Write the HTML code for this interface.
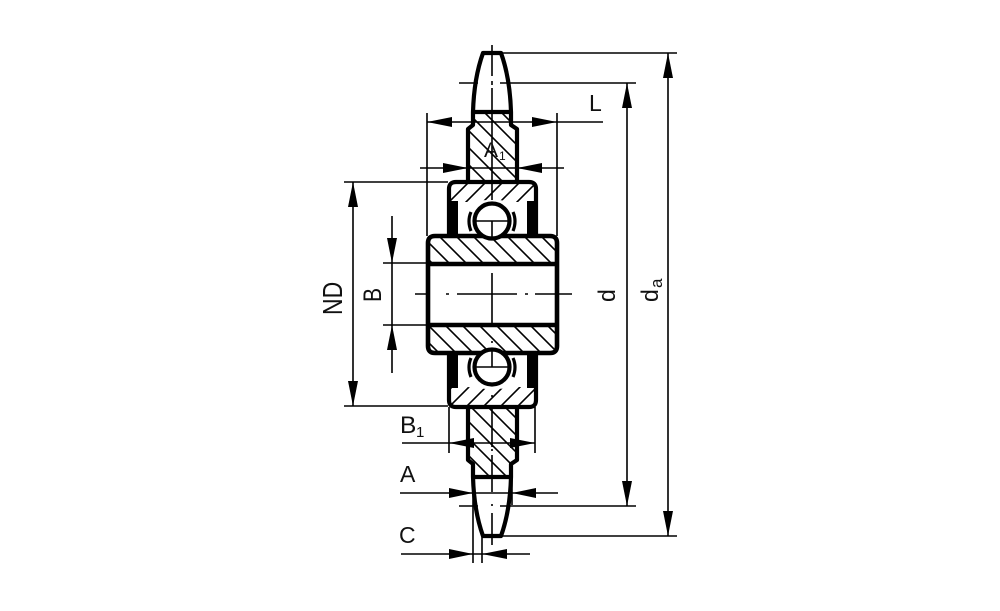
<!DOCTYPE html>
<html><head><meta charset="utf-8"><style>
html,body{margin:0;padding:0;background:#fff}
svg{display:block}
text{font-family:"Liberation Sans",sans-serif;fill:#111}
</style></head><body>
<svg width="1000" height="611" viewBox="0 0 1000 611" xmlns="http://www.w3.org/2000/svg">
<defs>
<clipPath id="cn1"><path d="M474 112H510V125L516 130V181H469V130L474 125Z"/></clipPath>
<clipPath id="cn2"><path d="M469 408H516V459L510 464V476H474V464L469 459Z"/></clipPath>
<clipPath id="co1"><path d="M451 202V188Q451 183 456 183H529Q534 183 534 188V202H516Q505 200 492 200Q479 200 468 202Z"/></clipPath>
<clipPath id="co2"><path d="M451 387V401Q451 406 456 406H529Q534 406 534 401V387H516Q505 389 492 389Q479 389 468 387Z"/></clipPath>
<clipPath id="ci1"><path d="M429 262V243Q429 238 434 238H550Q555 238 555 243V262Z"/></clipPath>
<clipPath id="ci2"><path d="M429 327V346Q429 351 434 351H550Q555 351 555 346V327Z"/></clipPath>
</defs>
<rect width="1000" height="611" fill="#fff"/>

<!-- hatching -->
<g stroke="#000" stroke-width="1.6" fill="none">
<path clip-path="url(#cn1)" d="M387 100L477 190M404 100L494 190M421 100L511 190M438 100L528 190M455 100L545 190M472 100L562 190M489 100L579 190"/>
<path clip-path="url(#cn2)" d="M396 400L476 480M413 400L493 480M430 400L510 480M447 400L527 480M464 400L544 480M481 400L561 480M498 400L578 480"/>
<path clip-path="url(#ci1)" d="M399 230L439 270M416 230L456 270M433 230L473 270M450 230L490 270M467 230L507 270M484 230L524 270M501 230L541 270M518 230L558 270M535 230L575 270M552 230L592 270"/>
<path clip-path="url(#ci2)" d="M406 320L441 355M423 320L458 355M440 320L475 355M457 320L492 355M474 320L509 355M491 320L526 355M508 320L543 355M525 320L560 355M542 320L577 355"/>
<path clip-path="url(#co1)" d="M454 180L429 205M471 180L446 205M488 180L463 205M505 180L480 205M522 180L497 205M539 180L514 205M556 180L531 205"/>
<path clip-path="url(#co2)" d="M454 385L429 410M471 385L446 410M488 385L463 410M505 385L480 410M522 385L497 410M539 385L514 410M556 385L531 410"/>
</g>

<!-- thin lines -->
<g stroke="#000" stroke-width="1.6" fill="none">
<path d="M502 53H677M459 83H478M500 83H636M459 506H478M500 506H636M502 536H677"/>
<path d="M627 83V506M668 53V536"/>
<path d="M427 113V236M557 113V236M427 122H603"/>
<path d="M420 168H564"/>
<path d="M344 182H448M344 406H448M353 182V406"/>
<path d="M383 263H427M383 325H427M392 216V373"/>
<path d="M449 407V453M535 407V453M402 443H535"/>
<path d="M400 493H558M473 480V563M512 476V505"/>
<path d="M401 554H530M482 536V563"/>
<path d="M415 294H430M446 294H449M457 294H517M525 294H528M535 294H572"/>
<path d="M492 45V76M492 81V85M492 88V200M492 208V210M492 222V238M492 273V325M492 341V343M492 352V367M492 395V397M492 408V447M492 449V451M492 455V492M492 504V506M492 513V545"/>
</g>

<!-- arrowheads -->
<g fill="#000">
<polygon points="668,53 663,78 673,78"/><polygon points="668,536 663,511 673,511"/>
<polygon points="627,83 622,108 632,108"/><polygon points="627,506 622,481 632,481"/>
<polygon points="427,122 452,117 452,127"/><polygon points="557,122 532,117 532,127"/>
<polygon points="468,168 443,163 443,173"/><polygon points="517,168 542,163 542,173"/>
<polygon points="353,182 348,207 358,207"/><polygon points="353,406 348,381 358,381"/>
<polygon points="392,263 387,238 397,238"/><polygon points="392,325 387,350 397,350"/>
<polygon points="449,443 474,438 474,448"/><polygon points="535,443 510,438 510,448"/>
<polygon points="473,493 449,488 449,498"/><polygon points="512,493 536,488 536,498"/>
<polygon points="473,554 449,549 449,559"/><polygon points="482,554 507,549 507,559"/>
</g>

<!-- seals -->
<g fill="#000">
<rect x="449" y="201" width="9" height="34"/><rect x="527" y="201" width="9" height="34"/>
<rect x="449" y="354" width="9" height="34"/><rect x="527" y="354" width="9" height="34"/>
</g>

<!-- thick outlines -->
<g stroke="#000" stroke-width="4.2" fill="none" stroke-linejoin="round">
<path d="M473 112Q474 78 483 53H501Q510 78 511 112"/>
<path d="M473 112H511"/>
<path d="M473 112V125L468 129V181M511 112V125L517 129V181"/>
<path d="M473 477Q474 511 483 536H501Q510 511 511 477"/>
<path d="M473 477H511"/>
<path d="M473 477V464L468 460V408M511 477V464L517 460V408"/>
<path d="M449 235V189Q449 182 456 182H529Q536 182 536 189V235"/>
<path d="M449 354V400Q449 407 456 407H529Q536 407 536 400V354"/>
<path d="M428 264V243Q428 236 435 236H550Q557 236 557 243V264V346Q557 353 550 353H435Q428 353 428 346V264" stroke-width="4.6"/>
<path d="M428 264H557M428 325H557" stroke-width="4.4"/>
<path d="M471 212Q467 221 471 231M513 212Q517 221 513 231" stroke-width="3.2"/>
<path d="M471 358Q467 367 471 377M513 358Q517 367 513 377" stroke-width="3.2"/>
<circle cx="492" cy="221" r="17.5" fill="#fff"/>
<circle cx="492" cy="367" r="17.5" fill="#fff"/>
</g>
<g stroke="#000" stroke-width="1.6" fill="none">
<path d="M475 221H509M492 221V238M475 367H509M492 350V367"/>
</g>

<!-- labels -->
<g font-size="23">
<text x="589" y="111">L</text>
<text x="484" y="157" font-size="21">A</text>
<text x="499" y="160" font-size="12">1</text>
<text x="400" y="433" font-size="24.5">B</text>
<text x="416" y="437" font-size="15">1</text>
<text x="400" y="482">A</text>
<text x="399" y="543">C</text>
<text transform="translate(342 315) rotate(-90) scale(1 1.2)">ND</text>
<text transform="translate(381 302) rotate(-90) scale(.92 1.08)">B</text>
<text transform="translate(615 302) rotate(-90) scale(1 1.05)">d</text>
<text transform="translate(658 302) rotate(-90) scale(1 1.05)">d</text>
<text transform="translate(662 288) rotate(-90)" font-size="17">a</text>
</g>
</svg>
</body></html>
